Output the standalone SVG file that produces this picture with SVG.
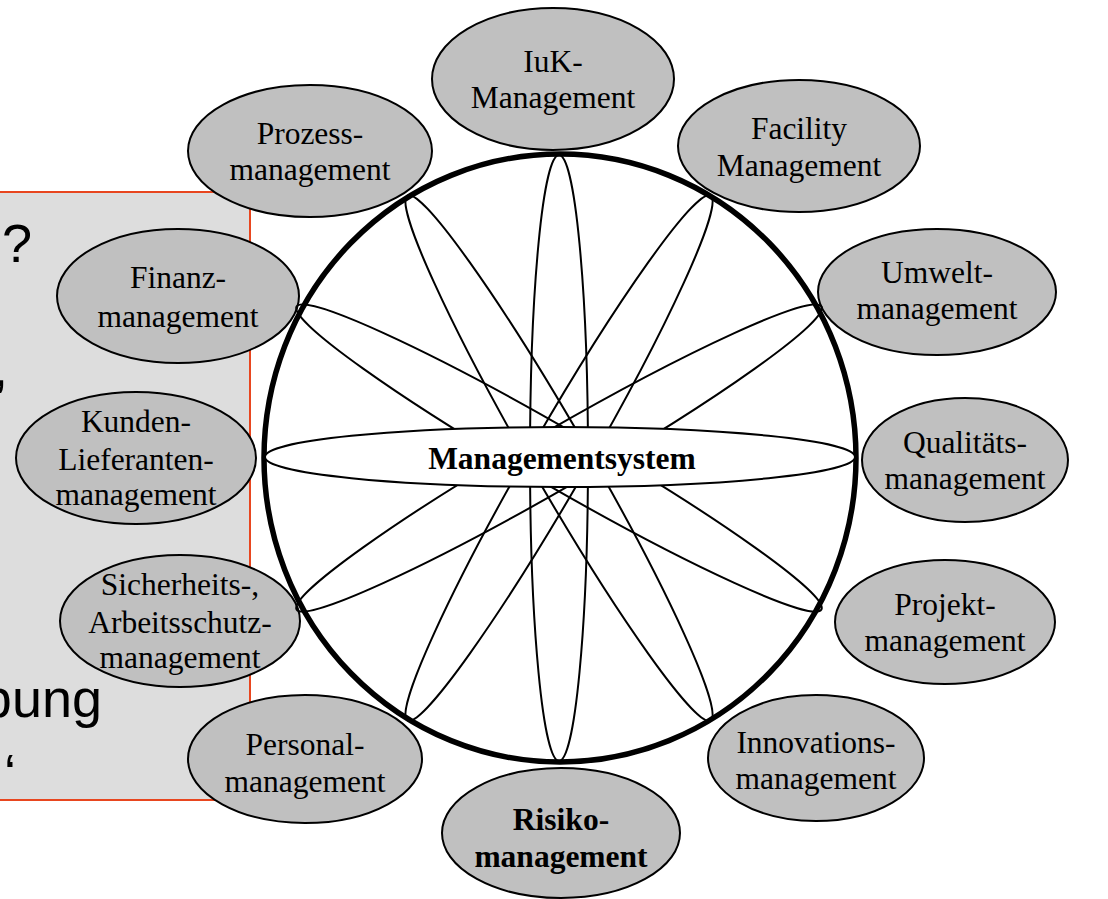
<svg xmlns="http://www.w3.org/2000/svg" width="1108" height="899" viewBox="0 0 1108 899">
  <style>
    .node ellipse { fill: #c0c0c0; stroke: #000; stroke-width: 2; }
    .lbl { font-family: "Liberation Serif", "Times New Roman", serif; font-size: 31.5px; fill: #000; text-anchor: middle; }
    .bold { font-weight: bold; }
    .side { font-family: "Liberation Sans", Arial, sans-serif; font-size: 54px; fill: #000; }
    .petal { fill: none; stroke: #000; stroke-width: 2; }
  </style>

  <!-- background text panel, partly outside the page -->
  <g id="panel">
    <rect x="-10" y="192" width="260" height="608" fill="#dddddd" stroke="#e8461f" stroke-width="2"/>
    <text class="side" x="2" y="262">?</text>
    <text class="side" x="8" y="386" text-anchor="end">,</text>
    <text class="side" x="102" y="717" text-anchor="end">bung</text>
    <text class="side" x="16" y="792" text-anchor="end">‘</text>
  </g>

  <!-- outer management areas -->
  <g id="iuk" class="node">
    <ellipse cx="553" cy="79" rx="121" ry="71"/>
    <text class="lbl" x="553" y="72">IuK-</text>
    <text class="lbl" x="553" y="108">Management</text>
  </g>
  <g id="facility" class="node">
    <ellipse cx="799" cy="146" rx="121" ry="66"/>
    <text class="lbl" x="799" y="139">Facility</text>
    <text class="lbl" x="799" y="176">Management</text>
  </g>
  <g id="umwelt" class="node">
    <ellipse cx="937" cy="292" rx="119" ry="63"/>
    <text class="lbl" x="937" y="283">Umwelt-</text>
    <text class="lbl" x="937" y="319">management</text>
  </g>
  <g id="qualitaet" class="node">
    <ellipse cx="965" cy="460" rx="103" ry="62"/>
    <text class="lbl" x="965" y="453">Qualitäts-</text>
    <text class="lbl" x="965" y="489">management</text>
  </g>
  <g id="projekt" class="node">
    <ellipse cx="945" cy="622" rx="110" ry="62"/>
    <text class="lbl" x="945" y="615">Projekt-</text>
    <text class="lbl" x="945" y="651">management</text>
  </g>
  <g id="innovation" class="node">
    <ellipse cx="816" cy="758" rx="108" ry="63"/>
    <text class="lbl" x="816" y="753">Innovations-</text>
    <text class="lbl" x="816" y="789">management</text>
  </g>
  <g id="risiko" class="node">
    <ellipse cx="561" cy="833" rx="119" ry="65"/>
    <text class="lbl bold" x="561" y="830">Risiko-</text>
    <text class="lbl bold" x="561" y="867">management</text>
  </g>
  <g id="personal" class="node">
    <ellipse cx="305" cy="759" rx="117" ry="64"/>
    <text class="lbl" x="305" y="755">Personal-</text>
    <text class="lbl" x="305" y="792">management</text>
  </g>
  <g id="sicherheit" class="node">
    <ellipse cx="180" cy="621" rx="120" ry="66"/>
    <text class="lbl" x="180" y="595">Sicherheits-,</text>
    <text class="lbl" x="180" y="633">Arbeitsschutz-</text>
    <text class="lbl" x="180" y="668">management</text>
  </g>
  <g id="kunden" class="node">
    <ellipse cx="136" cy="458" rx="120" ry="66"/>
    <text class="lbl" x="136" y="432">Kunden-</text>
    <text class="lbl" x="136" y="470">Lieferanten-</text>
    <text class="lbl" x="136" y="505">management</text>
  </g>
  <g id="finanz" class="node">
    <ellipse cx="178" cy="296" rx="121" ry="67"/>
    <text class="lbl" x="178" y="288">Finanz-</text>
    <text class="lbl" x="178" y="327">management</text>
  </g>
  <g id="prozess" class="node">
    <ellipse cx="310" cy="151" rx="122" ry="66"/>
    <text class="lbl" x="310" y="144">Prozess-</text>
    <text class="lbl" x="310" y="180">management</text>
  </g>

  <!-- hub: petals crossing the centre, framed by the outer ring -->
  <g id="connectors">
    <ellipse class="petal" cx="559" cy="458" rx="29" ry="303"/>
    <ellipse class="petal" cx="559" cy="458" rx="29" ry="303" transform="rotate(30 559 458)"/>
    <ellipse class="petal" cx="559" cy="458" rx="29" ry="303" transform="rotate(60 559 458)"/>
    <ellipse class="petal" cx="559" cy="458" rx="29" ry="303" transform="rotate(120 559 458)"/>
    <ellipse class="petal" cx="559" cy="458" rx="29" ry="303" transform="rotate(150 559 458)"/>
    <ellipse cx="560" cy="458" rx="296" ry="304" fill="none" stroke="#000" stroke-width="5.5"/>
  </g>

  <g id="managementsystem">
    <ellipse cx="560" cy="457" rx="295" ry="30" fill="#fff" stroke="#000" stroke-width="2"/>
    <text class="lbl bold" x="562" y="469">Managementsystem</text>
  </g>
</svg>
